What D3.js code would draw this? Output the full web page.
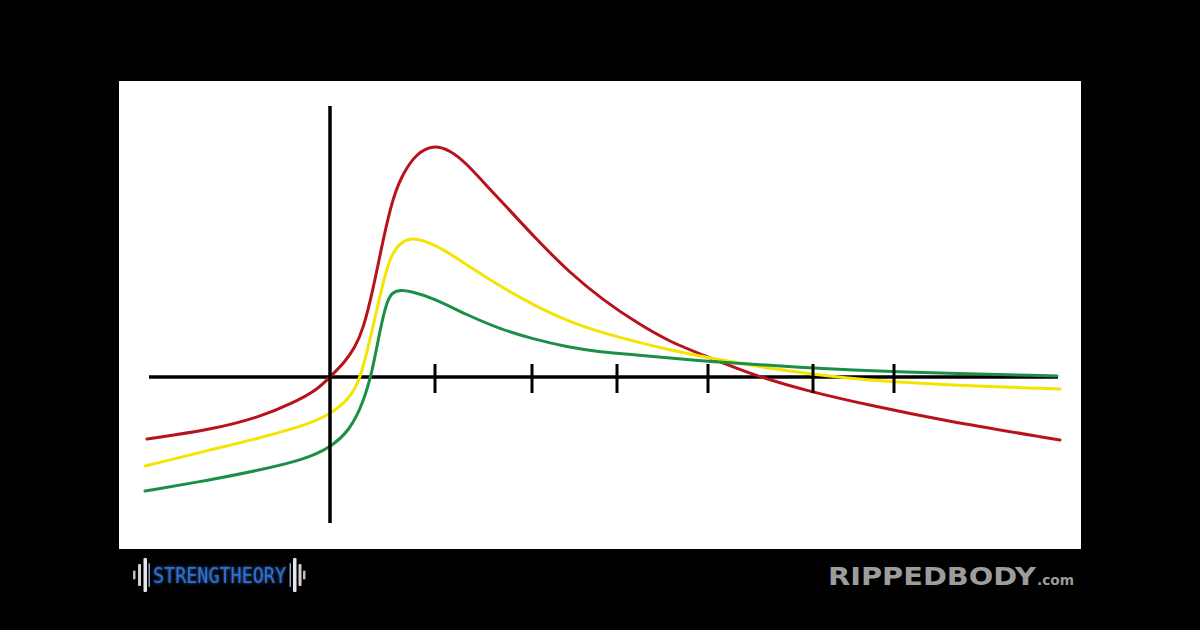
<!DOCTYPE html>
<html lang="en">
<head>
  <meta charset="utf-8">
  <title>Response curves</title>
  <script src="https://d3js.org/d3.v7.min.js"></script>
  <style>
    body { margin: 0; background: #000; }
  </style>
</head>
<body>
	<script type="text/javascript">

		// Curve points (x: units after the vertical axis, y: above the horizontal axis)
		var redX    = [-1.83,-1.20,-0.70,-0.37,-0.13,0,0.15,0.25,0.33,0.43,0.53,0.63,0.73,0.87,1.03,1.20,1.37,1.55,1.73,2.07,2.40,2.73,3.07,3.40,3.73,4.23,4.77,5.43,6.10,7.30];
		var redY    = [-0.62,-0.53,-0.40,-0.26,-0.13,0,0.15,0.30,0.47,0.87,1.37,1.80,2.04,2.24,2.32,2.27,2.13,1.93,1.74,1.37,1.04,0.77,0.54,0.35,0.22,0.02,-0.14,-0.29,-0.43,-0.63];
		var yellowX = [-1.85,-1.20,-0.70,-0.27,0,0.20,0.30,0.40,0.50,0.60,0.70,0.80,0.93,1.13,1.37,1.73,2.07,2.40,2.73,3.07,3.40,3.73,4.43,5.10,6.10,7.30];
		var yellowY = [-0.89,-0.73,-0.61,-0.49,-0.38,-0.21,-0.03,0.37,0.82,1.21,1.34,1.39,1.37,1.28,1.12,0.89,0.70,0.55,0.44,0.35,0.27,0.20,0.08,-0.01,-0.08,-0.12];
		var greenX  = [-1.85,-1.20,-0.70,-0.27,0,0.20,0.33,0.42,0.50,0.57,0.63,0.70,0.80,1.03,1.37,1.70,2.03,2.37,2.70,3.07,3.40,3.73,4.77,5.63,7.27];
		var greenY  = [-1.14,-1.03,-0.93,-0.83,-0.71,-0.53,-0.26,0.04,0.47,0.77,0.85,0.87,0.86,0.79,0.62,0.48,0.38,0.30,0.25,0.22,0.19,0.16,0.09,0.05,0.01];

		// Unlabelled tick marks on the x axis, and the axis extents
		var tickValues = [1.05, 2.02, 2.87, 3.78, 4.83, 5.64];
		var xAxisExtent = [-1.81, 7.28];
		var yAxisExtent = [-1.46, 2.71];

		var svg_width = 1200;
		var svg_height = 630;

		var svg = d3.select("body")
					.append("svg")
					.attr("width", svg_width)
					.attr("height", svg_height);

		svg.append("rect")
		   .attr("width", svg_width)
		   .attr("height", svg_height)
		   .attr("fill", "#000");

		// White panel
		var panel = { left: 119, top: 81, right: 1081, bottom: 549 };
		svg.append("rect")
		   .attr("x", panel.left)
		   .attr("y", panel.top)
		   .attr("width", panel.right - panel.left)
		   .attr("height", panel.bottom - panel.top)
		   .attr("fill", "#fff");

		var xScale = d3.scaleLinear()
					   .domain([-2.11, 7.51])
					   .range([panel.left, panel.right]);

		var yScale = d3.scaleLinear()
					   .domain([-1.72, 2.96])
					   .range([panel.bottom, panel.top]);

		// Horizontal axis line
		svg.append("line")
		   .attr("x1", xScale(xAxisExtent[0]))
		   .attr("x2", xScale(xAxisExtent[1]))
		   .attr("y1", yScale(0))
		   .attr("y2", yScale(0))
		   .attr("stroke", "#000")
		   .attr("stroke-width", 3.5);

		// basis spline smooths out the small reading errors
		var line = d3.line()
					 .x(function(d) { return xScale(d[0]); })
					 .y(function(d) { return yScale(d[1]); })
					 .curve(d3.curveBasis);

		var series = [
			{ name: "red",    xs: redX,    ys: redY,    color: "#b8121b" },
			{ name: "yellow", xs: yellowX, ys: yellowY, color: "#f3e500" },
			{ name: "green",  xs: greenX,  ys: greenY,  color: "#1b8f45" }
		];

		svg.selectAll("path.curve")
		   .data(series)
		   .enter()
			   .append("path")
			   .attr("class", "curve")
			   .attr("d", function(s) {
					return line(d3.zip(s.xs, s.ys));
			   })
			   .attr("fill", "none")
			   .attr("stroke", function(s) { return s.color; })
			   .attr("stroke-width", 3)
			   .attr("stroke-linecap", "round")
			   .attr("stroke-linejoin", "round");

		// Vertical axis line
		svg.append("line")
		   .attr("x1", xScale(0))
		   .attr("x2", xScale(0))
		   .attr("y1", yScale(yAxisExtent[1]))
		   .attr("y2", yScale(yAxisExtent[0]))
		   .attr("stroke", "#000")
		   .attr("stroke-width", 3.5);

		// Tick marks
		svg.selectAll("line.tick")
		   .data(tickValues)
		   .enter()
			   .append("line")
			   .attr("class", "tick")
			   .attr("x1", function(d) { return xScale(d); })
			   .attr("x2", function(d) { return xScale(d); })
			   .attr("y1", yScale(0) - 13)
			   .attr("y2", yScale(0) + 16)
			   .attr("stroke", "#000")
			   .attr("stroke-width", 3);

		// Logos along the bottom
		var glow = svg.append("defs").append("filter").attr("id", "glow");
		glow.append("feGaussianBlur").attr("stdDeviation", 1.8).attr("result", "b");
		var merge = glow.append("feMerge");
		merge.append("feMergeNode").attr("in", "b");
		merge.append("feMergeNode").attr("in", "SourceGraphic");

		// barbell plates either side of the name
		var plates = [
			{ x: 133, w: 2.5, h: 9,  c: "#bdbdbd" },
			{ x: 138, w: 3,   h: 22, c: "#cfcfcf" },
			{ x: 143.5, w: 3.5, h: 34, c: "#e6e6e6" },
			{ x: 148.5, w: 1.5, h: 24, c: "#8aa6cc" },
			{ x: 289.5, w: 1.5, h: 24, c: "#8aa6cc" },
			{ x: 293, w: 3.5, h: 34, c: "#e6e6e6" },
			{ x: 298.5, w: 3,   h: 22, c: "#cfcfcf" },
			{ x: 303, w: 2.5, h: 9,  c: "#bdbdbd" }
		];
		svg.selectAll("rect.plate")
		   .data(plates)
		   .enter()
			   .append("rect")
			   .attr("class", "plate")
			   .attr("x", function(d) { return d.x; })
			   .attr("y", function(d) { return 575 - d.h / 2; })
			   .attr("width", function(d) { return d.w; })
			   .attr("height", function(d) { return d.h; })
			   .attr("rx", 1)
			   .attr("fill", function(d) { return d.c; });

		svg.append("text")
		   .text("STRENGTHEORY")
		   .attr("x", 153)
		   .attr("y", 583)
		   .attr("textLength", 133)
		   .attr("lengthAdjust", "spacingAndGlyphs")
		   .attr("font-family", "DejaVu Sans Mono, monospace")
		   .attr("font-size", "21px")
		   .attr("fill", "#3170d0")
		   .attr("filter", "url(#glow)");

		svg.append("text")
		   .text("RIPPEDBODY")
		   .attr("x", 828)
		   .attr("y", 585)
		   .attr("textLength", 208)
		   .attr("lengthAdjust", "spacingAndGlyphs")
		   .attr("font-family", "DejaVu Sans, sans-serif")
		   .attr("font-weight", "bold")
		   .attr("font-size", "25px")
		   .attr("fill", "#9c9c9c");

		svg.append("text")
		   .text(".com")
		   .attr("x", 1037)
		   .attr("y", 585)
		   .attr("textLength", 37)
		   .attr("lengthAdjust", "spacingAndGlyphs")
		   .attr("font-family", "DejaVu Sans, sans-serif")
		   .attr("font-weight", "bold")
		   .attr("font-size", "14px")
		   .attr("fill", "#9c9c9c");
	</script>
</body>
</html>
